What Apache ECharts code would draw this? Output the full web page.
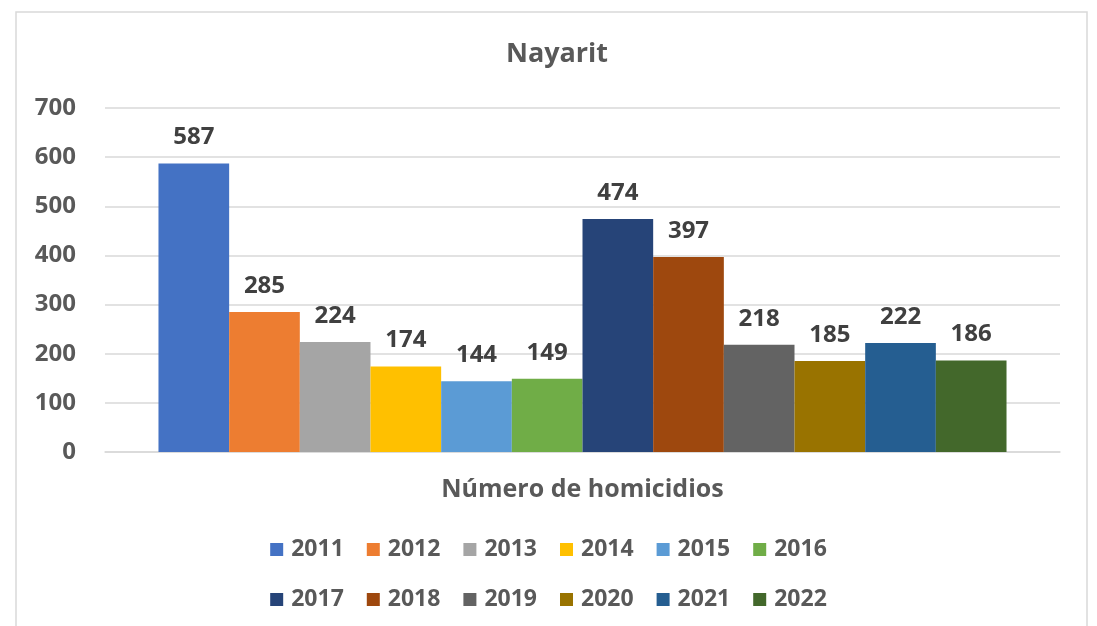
<!DOCTYPE html>
<html>
<head>
<meta charset="utf-8">
<script src="https://cdn.jsdelivr.net/npm/echarts@6/dist/echarts.min.js"></script>
<style>
  html, body { margin: 0; padding: 0; background: #fff; }
  #chart { width: 1097px; height: 626px; }
</style>
</head>
<body>
<div id="chart"></div>
<script>
// 数据
const categories = ['Número de homicidios'];
const years = ['2011', '2012', '2013', '2014', '2015', '2016', '2017', '2018', '2019', '2020', '2021', '2022'];
const homicidios = [587, 285, 224, 174, 144, 149, 474, 397, 218, 185, 222, 186];
const colors = ['#4472C4', '#ED7D31', '#A5A5A5', '#FFC000', '#5B9BD5', '#70AD47',
    '#264478', '#9E480E', '#636363', '#997300', '#255E91', '#43682B'];

const font = '"Open Sans", "Liberation Sans", sans-serif';

const series = years.map((y, i) => ({
    name: y,
    type: 'bar',
    data: [homicidios[i]],
    barGap: '0%',
    barCategoryGap: '11.2%',
    itemStyle: { color: colors[i] },
    label: {
        show: true,
        position: 'top',
        distance: 14,
        fontFamily: font,
        fontWeight: 'bold',
        fontSize: 24,
        color: '#404040',
    },
}));

const legendBase = {
    left: 'center',
    itemWidth: 13,
    itemHeight: 13,
    itemGap: 23,
    icon: 'rect',
    textStyle: {
        fontFamily: font,
        fontWeight: 'bold',
        fontSize: 23,
        color: '#595959',
        padding: [0, 0, 0, 3],
    },
};

const myChart = echarts.init(document.getElementById('chart'));
myChart.setOption({
    animation: false,
    color: colors,
    title: {
        text: 'Nayarit',
        left: 552,
        textAlign: 'center',
        top: 36,
        textStyle: {
            fontFamily: font,
            fontWeight: 'bold',
            fontSize: 27,
            color: '#595959',
        },
    },
    legend: [
        Object.assign({}, legendBase, { top: 533, data: years.slice(0, 6) }),
        Object.assign({}, legendBase, { top: 583, data: years.slice(6) }),
    ],
    grid: {
        left: 105,
        right: 37,
        top: 108,
        bottom: 174,
    },
    xAxis: {
        type: 'category',
        data: categories,
        axisLine: { show: true, lineStyle: { color: '#d9d9d9', width: 1.5 } },
        axisTick: { show: false },
        axisLabel: {
            margin: 25,
            fontFamily: font,
            fontWeight: 'bold',
            fontSize: 25,
            color: '#595959',
        },
    },
    yAxis: {
        type: 'value',
        min: 0,
        max: 700,
        interval: 100,
        axisLine: { show: false },
        axisTick: { show: false },
        splitLine: { lineStyle: { color: '#d9d9d9', width: 1.5 } },
        axisLabel: {
            margin: 29,
            fontFamily: font,
            fontWeight: 'bold',
            fontSize: 24,
            color: '#595959',
        },
    },
    graphic: [
        {
            type: 'rect',
            shape: { x: 16, y: 12, width: 1071, height: 640 },
            style: { fill: 'none', stroke: '#d9d9d9', lineWidth: 1.5 },
            silent: true,
        },
    ],
    series: series,
});
</script>
</body>
</html>
